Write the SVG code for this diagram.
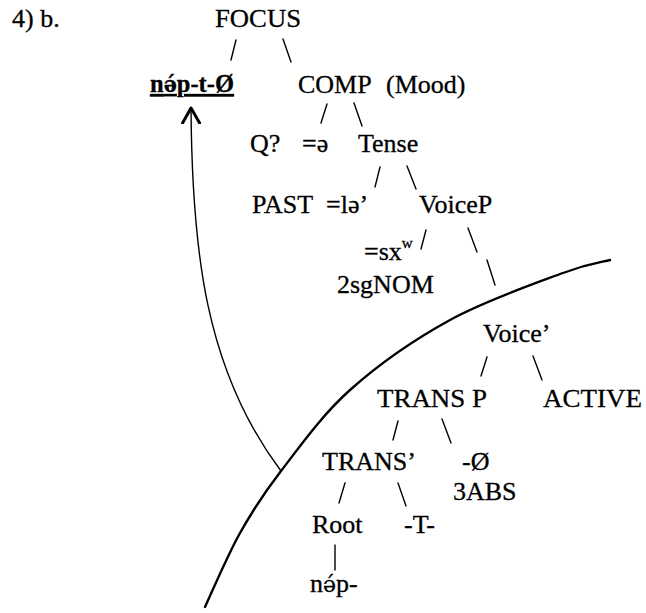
<svg xmlns="http://www.w3.org/2000/svg" width="646" height="613" viewBox="0 0 646 613">
  <style>
    .t text { font-size: 26px; fill: #000; stroke: #000; stroke-width: 0.3; }
    .sup { font-size: 15px; }
    .ipa { font-family: "DejaVu Serif", serif; font-size: 22px; }
    .br { stroke: #000; stroke-width: 1.4; fill: none; stroke-linecap: round; }
    .cut { stroke: #000; stroke-width: 2.4; fill: none; stroke-linecap: round; }
    .mv { stroke: #000; stroke-width: 1.4; fill: none; }
  </style>
  <defs>
    <marker id="head" viewBox="0 0 18 20" markerWidth="18" markerHeight="20" refX="16" refY="10" orient="auto" markerUnits="userSpaceOnUse">
      <path d="M1,1.5 L16,10 L1,18.5" fill="none" stroke="#000" stroke-width="3" stroke-linejoin="round" stroke-linecap="round"/>
    </marker>
  </defs>
  <rect width="646" height="613" fill="#fff"/>

  <g class="t" font-family="'Liberation Serif', 'Times New Roman', 'DejaVu Serif', serif">
  <g id="label"><text x="12" y="27">4) b.</text></g>
  <g id="focus"><text x="215" y="27" textLength="86" lengthAdjust="spacingAndGlyphs">FOCUS</text></g>
  <g id="moved"><text x="150" y="92" font-weight="bold" text-decoration="underline" textLength="84" lengthAdjust="spacingAndGlyphs">n<tspan class="ipa" font-weight="bold">ə́</tspan>p-t-Ø</text></g>
  <g id="comp"><text x="298" y="93">COMP</text><text x="386" y="93">(Mood)</text></g>
  <g id="q"><text x="250" y="152">Q?</text><text x="302" y="152">=ə</text></g>
  <g id="tense"><text x="358" y="152">Tense</text></g>
  <g id="past"><text x="252" y="213">PAST</text><text x="326" y="213">=lə’</text></g>
  <g id="voicep"><text x="419" y="213">VoiceP</text></g>
  <g id="nom"><text x="364" y="260">=sx<tspan class="sup" dy="-12">w</tspan></text><text x="337" y="293">2sgNOM</text></g>
  <g id="voicebar"><text x="483" y="342">Voice’</text></g>
  <g id="transp"><text x="377" y="407" textLength="110" lengthAdjust="spacingAndGlyphs">TRANS P</text></g>
  <g id="active"><text x="543" y="407" textLength="99" lengthAdjust="spacingAndGlyphs">ACTIVE</text></g>
  <g id="transbar"><text x="322" y="470" textLength="94" lengthAdjust="spacingAndGlyphs">TRANS’</text></g>
  <g id="abs"><text x="462" y="470">-Ø</text><text x="453" y="500">3ABS</text></g>
  <g id="root"><text x="312" y="533">Root</text></g>
  <g id="t"><text x="404" y="533">-T-</text></g>
  <g id="nap"><text x="310" y="592">n<tspan class="ipa">ə́</tspan>p-</text></g>
  </g>

  <g id="connectors">
    <line class="br" x1="236" y1="40" x2="231" y2="60"/>
    <line class="br" x1="283" y1="39" x2="291" y2="62"/>
    <line class="br" x1="327" y1="104" x2="321" y2="123"/>
    <line class="br" x1="354" y1="103" x2="362" y2="126"/>
    <line class="br" x1="380" y1="167" x2="375" y2="187"/>
    <line class="br" x1="407" y1="166" x2="416" y2="189"/>
    <line class="br" x1="426" y1="230" x2="421" y2="249"/>
    <line class="br" x1="468" y1="228" x2="477" y2="252"/>
    <line class="br" x1="487" y1="260" x2="495" y2="285"/>
    <line class="br" x1="487" y1="357" x2="481" y2="376"/>
    <line class="br" x1="533" y1="356" x2="542" y2="380"/>
    <line class="br" x1="398" y1="421" x2="393" y2="440"/>
    <line class="br" x1="442" y1="419" x2="451" y2="443"/>
    <line class="br" x1="345" y1="483" x2="339" y2="503"/>
    <line class="br" x1="398" y1="483" x2="406" y2="506"/>
    <line class="br" x1="335" y1="545" x2="335" y2="570"/>
    <path class="cut" d="M205,607 C210.8,594.7 227.3,555.7 240,533 C252.7,510.3 262.7,494.8 281,471 C299.3,447.2 321.8,415.2 350,390 C378.2,364.8 414.5,339.5 450,320 C485.5,300.5 536.3,283 563,273 C589.7,263 602.2,262.2 610,260"/>
    <path class="mv" d="M281,471 C205,370 192,250 191,108" marker-end="url(#head)"/>
  </g>
</svg>
